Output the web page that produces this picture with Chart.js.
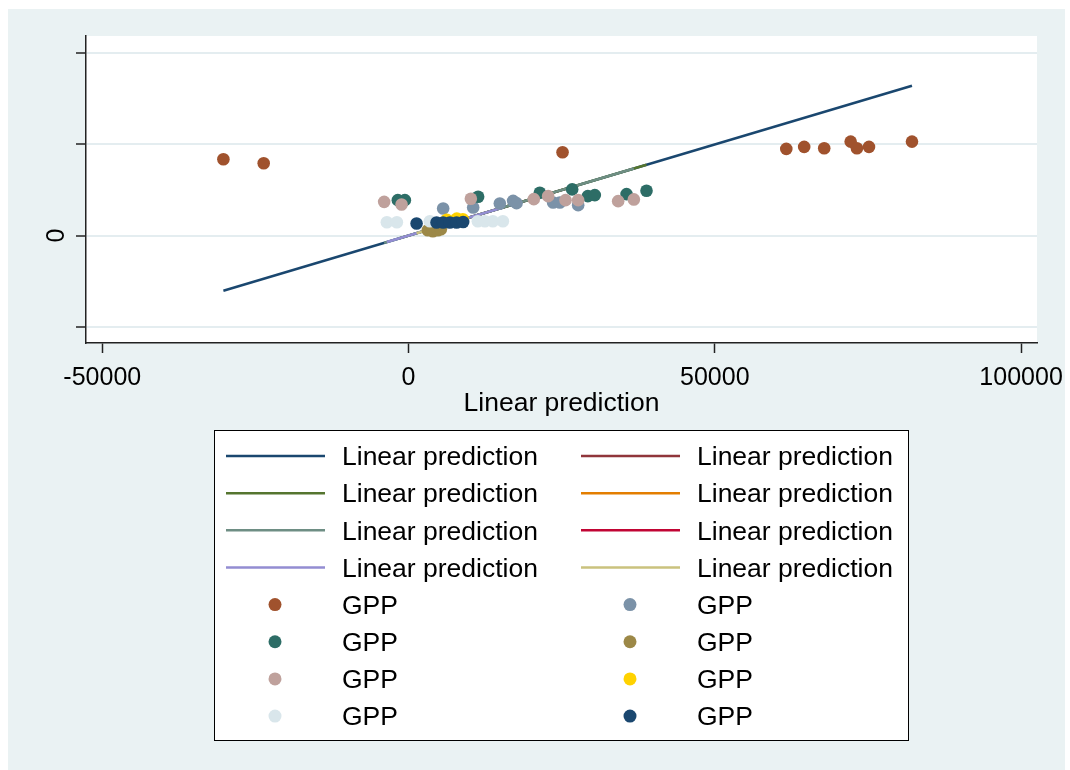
<!DOCTYPE html>
<html>
<head>
<meta charset="utf-8">
<script src="https://cdn.jsdelivr.net/npm/chart.js@4.4.0/dist/chart.umd.min.js"></script>
<style>
  html, body { margin: 0; padding: 0; background: #fff; }
  canvas { display: block; }
</style>
</head>
<body>
<canvas id="gppChart" width="1070" height="770"></canvas>
<script>
// fitted lines: prediction plotted against itself, one per group
const lineLabels = ["Linear prediction", "Linear prediction", "Linear prediction", "Linear prediction",
                    "Linear prediction", "Linear prediction", "Linear prediction", "Linear prediction"];
const lineStartX = [-30230, 5650, -1750, 3150, -3980, 6250, -3540, 1310];
const lineStartY = [-30230, 5650, -1750, 3150, -3980, 6250, -3540, 1310];
const lineEndX = [82190, 27690, 38850, 5270, 36780, 8860, 15400, 8910];
const lineEndY = [82190, 27690, 38850, 5270, 36780, 8860, 15400, 8910];

// GPP observations, one array per group
const gppLabels = ["GPP", "GPP", "GPP", "GPP", "GPP", "GPP", "GPP", "GPP"];
const gppX = [
  [-30230, -23650, 25140, 61670, 64590, 67860, 72180, 73200, 75170, 82190],
  [5650, 10550, 14900, 17070, 17630, 23600, 24700, 27690],
  [-1750, -600, 11360, 21430, 26710, 29270, 30410, 35590, 38850],
  [3150, 3970, 4780, 5270],
  [-3980, -1140, 10170, 20450, 22790, 25630, 27690, 34220, 36780],
  [6250, 7880, 8860],
  [-3540, -1910, 3480, 11310, 12460, 13760, 15400],
  [1310, 4570, 5650, 6740, 7840, 8910]
];
const gppY = [
  [41880, 39670, 45730, 47550, 48650, 47940, 51570, 47940, 48650, 51570],
  [14880, 15430, 17630, 19060, 17800, 18180, 18180, 16700],
  [19450, 19450, 21270, 23470, 25350, 21650, 22210, 22760, 24570],
  [2920, 2370, 2920, 3470],
  [18510, 17080, 20170, 20000, 21650, 19450, 19450, 18900, 19840],
  [8700, 9300, 9000],
  [7330, 7330, 7880, 7880, 7880, 7880, 7880],
  [6610, 7160, 7160, 7160, 7160, 7490]
];

const xTicks = [-50000, 0, 50000, 100000];
const xTickLabels = ["-50000", "0", "50000", "100000"];
const yTicks = [-50000, 0, 50000, 100000];
const yTickLabels = ["", "0", "", ""];

// Stata s2color palette
const lineColors = ["#1a476f", "#90353b", "#55752f", "#e37e00", "#6e8e84", "#c10534", "#938dd2", "#cac27e"];
const pointColors = ["#a0522d", "#7b92a8", "#2d6d66", "#9c8847", "#bfa19c", "#ffd200", "#d9e6eb", "#1a476f"];

Chart.defaults.font.family = "'Liberation Sans', Arial, sans-serif";
Chart.defaults.color = "#000";

const datasets = [];
lineLabels.forEach((label, i) => {
  datasets.push({
    label: label,
    data: [{ x: lineStartX[i], y: lineStartY[i] }, { x: lineEndX[i], y: lineEndY[i] }],
    showLine: true,
    borderColor: lineColors[i],
    borderWidth: 2.5,
    pointRadius: 0,
    fill: false
  });
});
gppLabels.forEach((label, i) => {
  datasets.push({
    label: label,
    data: gppX[i].map((x, j) => ({ x: x, y: gppY[i][j] })),
    backgroundColor: pointColors[i],
    borderWidth: 0,
    pointRadius: 6.3,
    pointHoverRadius: 6.3
  });
});
// later datasets are drawn on top
datasets.forEach((d, i) => { d.order = datasets.length - i; });

const backdrop = {
  id: "backdrop",
  beforeDraw(chart) {
    const { ctx, chartArea: a } = chart;
    ctx.save();
    ctx.fillStyle = "#fff";
    ctx.fillRect(0, 0, chart.width, chart.height);
    ctx.fillStyle = "#eaf2f3";
    ctx.fillRect(8, 9, 1057, 761);
    ctx.fillStyle = "#fff";
    ctx.fillRect(a.left, a.top, a.right - a.left, a.bottom - a.top);
    ctx.restore();
  }
};

// two-column legend box like Stata's
const keyBox = {
  id: "keyBox",
  afterDraw(chart) {
    const ctx = chart.ctx;
    ctx.save();
    ctx.fillStyle = "#fff";
    ctx.fillRect(214, 430, 695, 311);
    ctx.strokeStyle = "#000";
    ctx.lineWidth = 1;
    ctx.strokeRect(214.5, 430.5, 694, 310);
    ctx.font = "26.5px 'Liberation Sans', Arial, sans-serif";
    ctx.textBaseline = "middle";
    ctx.fillStyle = "#000";
    chart.data.datasets.forEach((d, i) => {
      const row = Math.floor(i / 2);
      const col = i % 2;
      const y = 456 + row * 37.15;
      const x0 = col === 0 ? 226 : 581;
      if (d.showLine) {
        ctx.strokeStyle = d.borderColor;
        ctx.lineWidth = 2.5;
        ctx.beginPath();
        ctx.moveTo(x0, y);
        ctx.lineTo(x0 + 99, y);
        ctx.stroke();
      } else {
        ctx.fillStyle = d.backgroundColor;
        ctx.beginPath();
        ctx.arc(x0 + 49, y, 6.5, 0, Math.PI * 2);
        ctx.fill();
      }
      ctx.fillStyle = "#000";
      ctx.fillText(d.label, x0 + 116, y + 2);
    });
    ctx.restore();
  }
};

new Chart(document.getElementById("gppChart"), {
  type: "scatter",
  data: { datasets: datasets },
  options: {
    responsive: false,
    animation: false,
    devicePixelRatio: 1,
    layout: { padding: { left: 0, top: 36, right: 33, bottom: 353 } },
    plugins: { legend: { display: false }, tooltip: { enabled: false } },
    scales: {
      x: {
        type: "linear",
        min: -52660,
        max: 102600,
        afterBuildTicks: (s) => { s.ticks = xTicks.map((v) => ({ value: v })); },
        afterFit: (s) => { s.height = 74; },
        grid: { drawOnChartArea: false, tickLength: 10, tickColor: "#222", tickWidth: 1.5 },
        border: { color: "#222", width: 1.5 },
        ticks: {
          callback: (v, i) => xTickLabels[i],
          maxRotation: 0,
          padding: 5,
          font: { size: 25, lineHeight: 1.6 }
        },
        title: {
          display: true,
          text: "Linear prediction",
          font: { size: 26.5, lineHeight: 1 },
          padding: 0
        }
      },
      y: {
        type: "linear",
        min: -58930,
        max: 109500,
        afterBuildTicks: (s) => { s.ticks = yTicks.map((v) => ({ value: v })); },
        afterFit: (s) => { s.width = 86; },
        grid: { color: "#e4edf0", lineWidth: 2, tickLength: 10, tickColor: "#222", tickWidth: 1.5 },
        border: { color: "#222", width: 1.5 },
        ticks: {
          callback: (v, i) => yTickLabels[i],
          minRotation: 90,
          maxRotation: 90,
          crossAlign: "center",
          padding: 12,
          font: { size: 25 }
        }
      }
    }
  },
  plugins: [backdrop, keyBox]
});
</script>
</body>
</html>
